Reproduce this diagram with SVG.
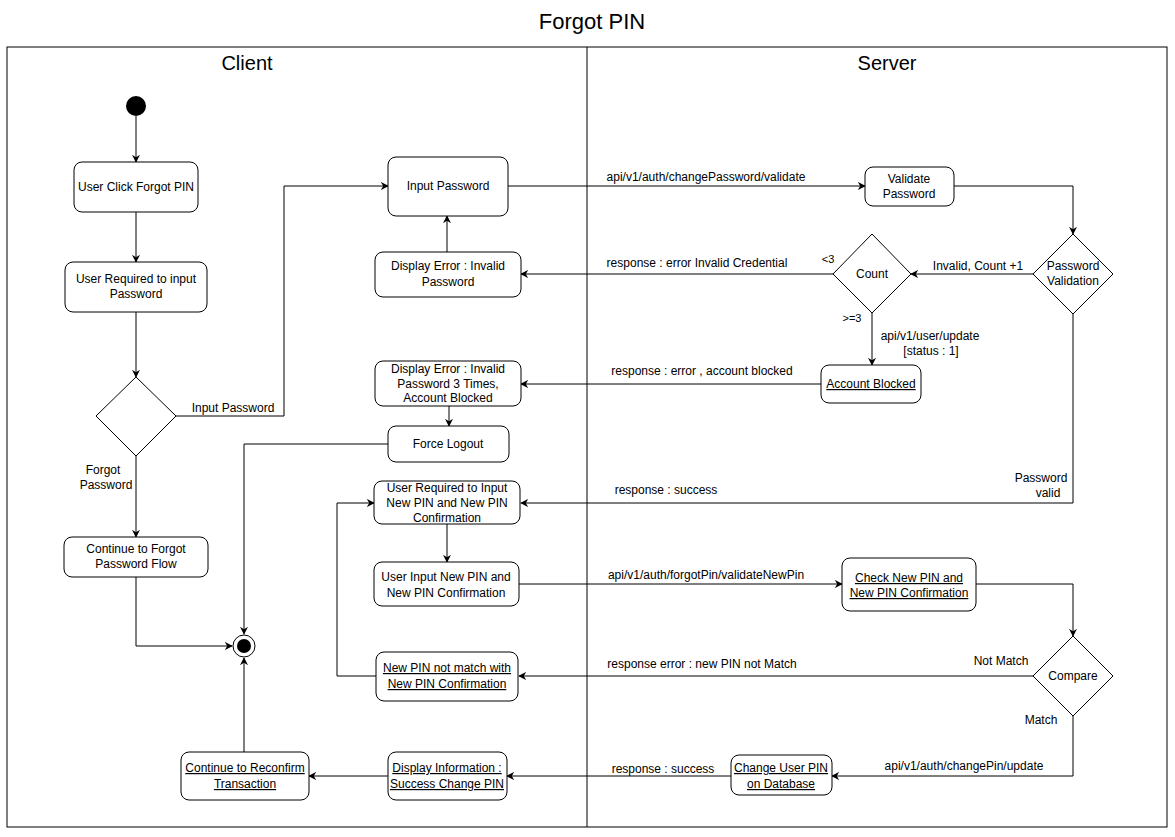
<svg xmlns="http://www.w3.org/2000/svg" width="1175" height="837" viewBox="0 0 1175 837">
<defs>
<marker id="arr" viewBox="0 0 10 10" refX="9" refY="5" markerWidth="8" markerHeight="8" markerUnits="userSpaceOnUse" orient="auto">
<path d="M0,0 L10,5 L0,10 L3,5 z" fill="#000"/>
</marker>
<style>
text{font-family:"Liberation Sans",Arial,sans-serif;font-size:12px;fill:#000;}
.t{text-anchor:middle;}
.u{text-decoration:underline;}
.box{fill:#fff;stroke:#000;stroke-width:1;}
.dia{fill:#fff;stroke:#000;stroke-width:1;}
.e{fill:none;stroke:#000;stroke-width:1;}
.ea{fill:none;stroke:#000;stroke-width:1;marker-end:url(#arr);}
</style>
</defs>
<rect width="1175" height="837" fill="#fff"/>
<text x="592" y="29" class="t" style="font-size:22px">Forgot PIN</text>
<g id="lanes">
<rect x="7" y="47" width="1160" height="780" fill="none" stroke="#000"/>
<line x1="587" y1="47" x2="587" y2="827" stroke="#000"/>
<text x="247" y="70" class="t" style="font-size:20px">Client</text>
<text x="887" y="70" class="t" style="font-size:20px">Server</text>
</g>
<g id="connectors">
<path class="ea" d="M136,116 L136,162"/>
<path class="ea" d="M136,212 L136,262"/>
<path class="ea" d="M136,312 L136,377"/>
<path class="ea" d="M176,416 L284,416 L284,186 L388,186"/>
<path class="ea" d="M136,456 L136,537"/>
<path class="ea" d="M136,577 L136,646 L232,646"/>
<path class="ea" d="M508,186 L865,186"/>
<path class="ea" d="M954,186 L1073,186 L1073,234"/>
<path class="ea" d="M1033,274 L911,274"/>
<path class="ea" d="M833,274 L521,274"/>
<path class="ea" d="M447,252 L447,216"/>
<path class="ea" d="M872,313 L872,365"/>
<path class="ea" d="M821,384 L521,384"/>
<path class="ea" d="M449,406 L449,426"/>
<path class="ea" d="M388,444 L244,444 L244,634"/>
<path class="ea" d="M1073,314 L1073,503 L521,503"/>
<path class="ea" d="M447,524 L447,562"/>
<path class="ea" d="M519,584 L842,584"/>
<path class="ea" d="M976,584 L1073,584 L1073,636"/>
<path class="ea" d="M1033,676 L519,676"/>
<path class="ea" d="M376,676 L337,676 L337,503 L374,503"/>
<path class="ea" d="M1073,716 L1073,776 L832,776"/>
<path class="ea" d="M731,776 L507,776"/>
<path class="ea" d="M388,776 L309,776"/>
<path class="ea" d="M244,752 L244,658"/>
<text x="233" y="412" class="t">Input Password</text>
<text x="103" y="474" class="t">Forgot</text>
<text x="106" y="489" class="t">Password</text>
<text x="706" y="181" class="t">api/v1/auth/changePassword/validate</text>
<text x="978" y="270" class="t">Invalid, Count +1</text>
<text x="828" y="263" class="t" style="font-size:11px">&lt;3</text>
<text x="697" y="267" class="t">response : error Invalid Credential</text>
<text x="852" y="322" class="t" style="font-size:11px">&gt;=3</text>
<text x="930" y="340" class="t">api/v1/user/update</text>
<text x="931" y="355" class="t">[status : 1]</text>
<text x="702" y="375" class="t">response : error , account blocked</text>
<text x="1041" y="482" class="t">Password</text>
<text x="1048" y="497" class="t">valid</text>
<text x="666" y="494" class="t">response : success</text>
<text x="706" y="579" class="t">api/v1/auth/forgotPin/validateNewPin</text>
<text x="1001" y="665" class="t">Not Match</text>
<text x="702" y="668" class="t">response error : new PIN not Match</text>
<text x="1041" y="724" class="t">Match</text>
<text x="964" y="770" class="t">api/v1/auth/changePin/update</text>
<text x="663" y="773" class="t">response : success</text>
</g>
<g id="start"><circle cx="136" cy="106" r="10" fill="#000"/></g>
<g id="end"><circle cx="244" cy="646" r="11" fill="#fff" stroke="#000"/><circle cx="244" cy="646" r="7" fill="#000"/></g>
<g id="n1"><rect class="box" x="74" y="162" width="124" height="50" rx="8"/><text x="136" y="191" class="t">User Click Forgot PIN</text></g>
<g id="n2"><rect class="box" x="65" y="262" width="142" height="50" rx="8"/><text x="136" y="283" class="t">User Required to input</text><text x="136" y="298" class="t">Password</text></g>
<g id="d1"><polygon class="dia" points="136,377 176,416 136,456 96,416"/></g>
<g id="n3"><rect class="box" x="64" y="537" width="144" height="40" rx="8"/><text x="136" y="553" class="t">Continue to Forgot</text><text x="136" y="568" class="t">Password Flow</text></g>
<g id="n4"><rect class="box" x="388" y="157" width="120" height="59" rx="8"/><text x="448" y="190" class="t">Input Password</text></g>
<g id="n5"><rect class="box" x="375" y="252" width="146" height="45" rx="8"/><text x="448" y="270" class="t">Display Error : Invalid</text><text x="448" y="286" class="t">Password</text></g>
<g id="n6"><rect class="box" x="865" y="167" width="89" height="39" rx="8"/><text x="909" y="183" class="t">Validate</text><text x="909" y="198" class="t">Password</text></g>
<g id="d2"><polygon class="dia" points="1073,234 1113,274 1073,314 1033,274"/><text x="1073" y="270" class="t">Password</text><text x="1073" y="285" class="t">Validation</text></g>
<g id="d3"><polygon class="dia" points="872,234 911,274 872,313 833,274"/><text x="872" y="278" class="t">Count</text></g>
<g id="n7"><rect class="box" x="821" y="365" width="100" height="38" rx="8"/><text x="871" y="388" class="t u">Account Blocked</text></g>
<g id="n8"><rect class="box" x="375" y="361" width="146" height="45" rx="8"/><text x="448" y="373" class="t">Display Error : Invalid</text><text x="448" y="388" class="t">Password 3 Times,</text><text x="448" y="402" class="t">Account Blocked</text></g>
<g id="n9"><rect class="box" x="388" y="426" width="121" height="36" rx="8"/><text x="448" y="448" class="t">Force Logout</text></g>
<g id="n10"><rect class="box" x="374" y="481" width="146" height="43" rx="8"/><text x="447" y="492" class="t">User Required to Input</text><text x="447" y="507" class="t">New PIN and New PIN</text><text x="447" y="522" class="t">Confirmation</text></g>
<g id="n11"><rect class="box" x="374" y="562" width="145" height="44" rx="8"/><text x="446" y="581" class="t">User Input New PIN and</text><text x="446" y="597" class="t">New PIN Confirmation</text></g>
<g id="n12"><rect class="box" x="842" y="558" width="134" height="53" rx="8"/><text x="909" y="582" class="t u">Check New PIN and</text><text x="909" y="597" class="t u">New PIN Confirmation</text></g>
<g id="d4"><polygon class="dia" points="1073,636 1113,676 1073,716 1033,676"/><text x="1073" y="680" class="t">Compare</text></g>
<g id="n13"><rect class="box" x="376" y="652" width="142" height="49" rx="8"/><text x="447" y="672" class="t u">New PIN not match with</text><text x="447" y="688" class="t u">New PIN Confirmation</text></g>
<g id="n14"><rect class="box" x="731" y="755" width="101" height="40" rx="8"/><text x="781" y="772" class="t u">Change User PIN</text><text x="781" y="788" class="t u">on Database</text></g>
<g id="n15"><rect class="box" x="388" y="752" width="119" height="48" rx="8"/><text x="447" y="772" class="t u">Display Information :</text><text x="447" y="788" class="t u">Success Change PIN</text></g>
<g id="n16"><rect class="box" x="181" y="752" width="128" height="48" rx="8"/><text x="245" y="772" class="t u">Continue to Reconfirm</text><text x="245" y="788" class="t u">Transaction</text></g>
</svg>
